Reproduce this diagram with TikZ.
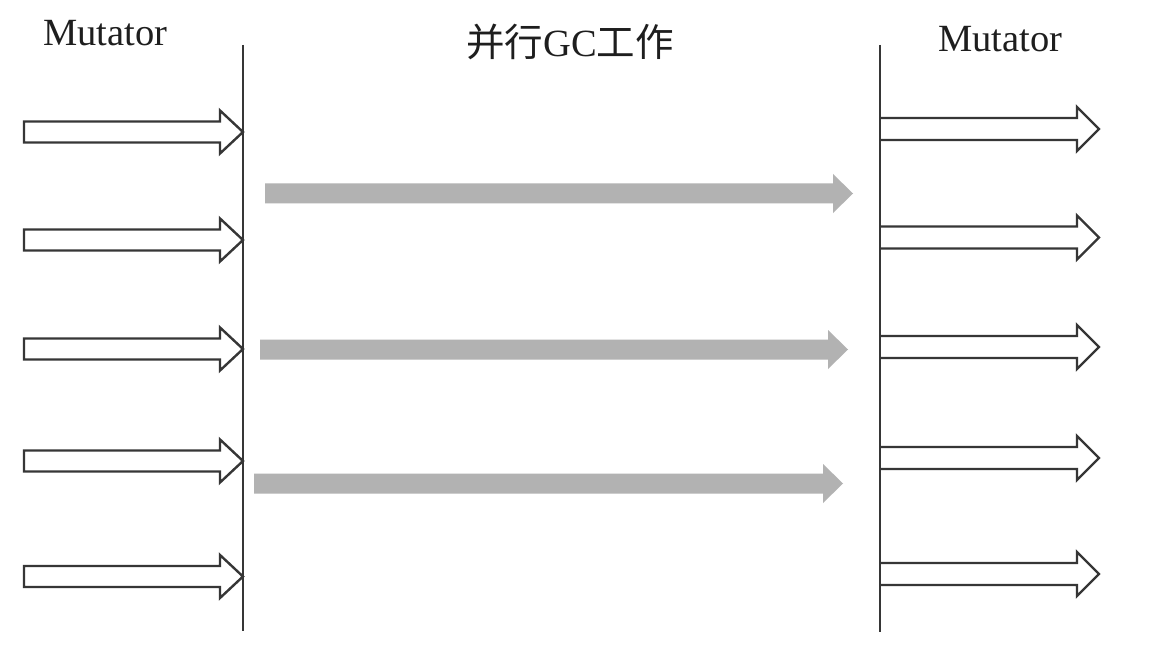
\documentclass[tikz,border=0pt]{standalone}
\usepackage{fontspec}
\setmainfont{Liberation Serif}
\newfontfamily\cjk{Noto Sans CJK SC}
\definecolor{linec}{HTML}{363636}
\definecolor{grayarr}{HTML}{B2B2B2}
\definecolor{txtc}{HTML}{1E1E1E}
\newcommand{\mutarrowL}[2]{% name, y
  \draw[hollow] (24,#2-10.5) -- (220,#2-10.5) -- (220,#2-21.5) -- (243,#2) -- (220,#2+21.5) -- (220,#2+10.5) -- (24,#2+10.5) -- cycle;
  \coordinate (#1) at (243,#2);}
\newcommand{\mutarrowR}[2]{% name, y
  \draw[hollow] (880,#2-11) -- (1077,#2-11) -- (1077,#2-22) -- (1099,#2) -- (1077,#2+22) -- (1077,#2+11) -- (880,#2+11);
  \coordinate (#1) at (1099,#2);}
\newcommand{\gcarrow}[4]{% name, x0, x1, y
  \fill[gcfill] (#2,#4-10) -- (#3-20,#4-10) -- (#3-20,#4-19.5) -- (#3,#4) -- (#3-20,#4+19.5) -- (#3-20,#4+10) -- (#2,#4+10) -- cycle;
  \coordinate (#1) at (#3,#4);}
\begin{document}
\begin{tikzpicture}[x=1pt,y=-1pt,
  hollow/.style={draw=linec,line width=2.4pt,fill=white,line join=miter},
  gcfill/.style={fill=grayarr},
  vline/.style={draw=linec,line width=1.8pt},
  lbl/.style={anchor=base west,inner sep=0pt,text=txtc,font=\fontsize{38.5}{42}\selectfont}]
\useasboundingbox (0,0) rectangle (1160,650);
\fill[white] (0,0) rectangle (1160,650);
% labels
\node[lbl] (mutL) at (43,46) {Mutator};
\node[lbl] (mutR) at (938,52) {Mutator};
\node[lbl] (title) at (466,57) {{\cjk 并行}GC{\cjk 工作}};
% left mutator arrows
\mutarrowL{l1}{132}
\mutarrowL{l2}{240}
\mutarrowL{l3}{349}
\mutarrowL{l4}{461}
\mutarrowL{l5}{576.5}
% right mutator arrows
\mutarrowR{r1}{129}
\mutarrowR{r2}{237.5}
\mutarrowR{r3}{347}
\mutarrowR{r4}{458}
\mutarrowR{r5}{574}
% vertical lines
\coordinate (vLt) at (243,45);
\coordinate (vLb) at (243,631);
\coordinate (vRt) at (880,45);
\coordinate (vRb) at (880,632);
\draw[vline] (vLt) -- (vLb);
\draw[vline] (vRt) -- (vRb);
% GC arrows
\gcarrow{g1}{265}{853}{193.5}
\gcarrow{g2}{260}{848}{349.5}
\gcarrow{g3}{254}{843}{483.5}
\end{tikzpicture}
\end{document}
